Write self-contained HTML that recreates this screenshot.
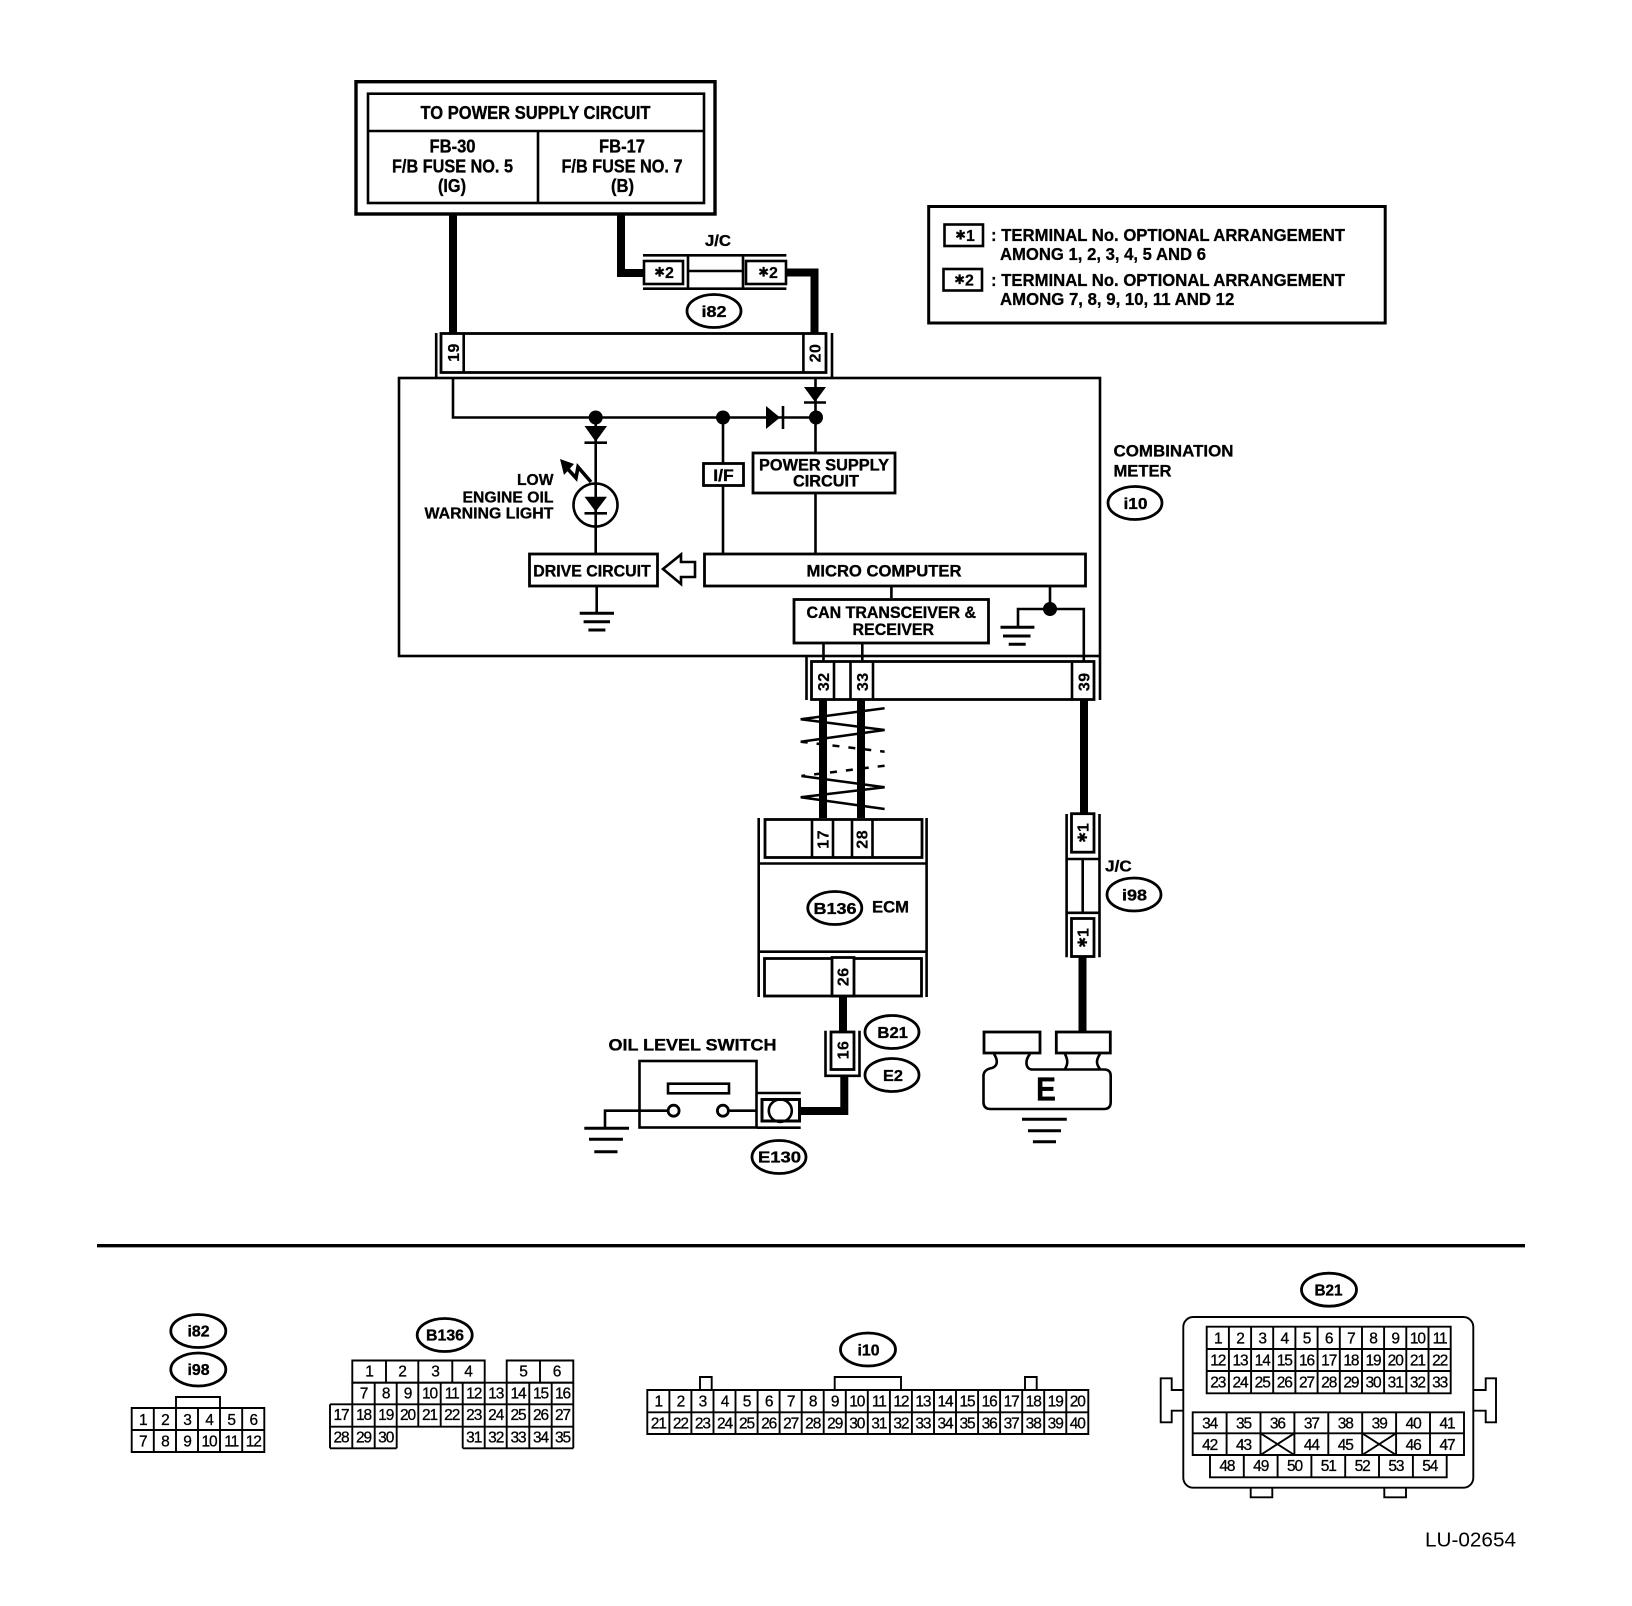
<!DOCTYPE html>
<html><head><meta charset="utf-8"><title>LU-02654</title>
<style>
html,body{margin:0;padding:0;background:#fff}
svg{display:block}
text{font-family:"Liberation Sans",sans-serif;fill:#000}
.b{font-weight:bold;font-size:17px;text-anchor:middle;stroke:#000;stroke-width:.35}
.h{font-size:18px}
.o{font-size:16px}
.l{font-weight:bold;font-size:17.5px;stroke:#000;stroke-width:.3}
.s{font-weight:bold;font-size:16px;text-anchor:middle;stroke:#000;stroke-width:.2}
.st{font-family:"DejaVu Sans",sans-serif;font-size:13px;font-weight:normal}
.p{font-weight:bold;font-size:16px;letter-spacing:.5px;text-anchor:middle;stroke:#000;stroke-width:.2}
.d{font-size:15.5px;text-anchor:middle;letter-spacing:-1.1px;stroke:#000;stroke-width:.3}
.ln{fill:none;stroke:#000;stroke-width:2.6}
.t{fill:none;stroke:#000;stroke-width:1.9}
.w{fill:none;stroke:#000;stroke-width:8}
.f{fill:#000;stroke:none}
.e{fill:#fff;stroke:#000;stroke-width:2.8}
</style></head>
<body>
<svg width="1632" height="1606" viewBox="0 0 1632 1606" xmlns="http://www.w3.org/2000/svg">
<rect width="1632" height="1606" fill="#fff"/>

<!-- Power supply box -->
<rect x="356" y="81.7" width="359" height="132.3" fill="none" stroke="#000" stroke-width="3.4"/>
<rect x="368" y="93.7" width="336" height="109.3" class="ln"/>
<path d="M368 131H704M538 131V203" class="ln"/>
<text class="b h" x="535.5" y="118.8" textLength="230" lengthAdjust="spacingAndGlyphs">TO POWER SUPPLY CIRCUIT</text>
<text class="b h" x="452.5" y="152.7" textLength="46" lengthAdjust="spacingAndGlyphs">FB-30</text>
<text class="b h" x="452.5" y="172.7" textLength="121" lengthAdjust="spacingAndGlyphs">F/B FUSE NO. 5</text>
<text class="b h" x="452" y="192" textLength="28" lengthAdjust="spacingAndGlyphs">(IG)</text>
<text class="b h" x="622" y="152.7" textLength="46" lengthAdjust="spacingAndGlyphs">FB-17</text>
<text class="b h" x="622" y="172.7" textLength="121" lengthAdjust="spacingAndGlyphs">F/B FUSE NO. 7</text>
<text class="b h" x="622.5" y="192" textLength="23" lengthAdjust="spacingAndGlyphs">(B)</text>

<!-- Wires upper -->
<path d="M453 215V333" class="w"/>
<path d="M621 215V273H644" class="w"/>
<path d="M786 272.5H814.5V333" class="w"/>

<!-- J/C i82 -->
<path d="M643 255.3H786.4M643 288.7H786.4M688 255V288M743 255V288M688 271H743" class="ln"/>
<rect x="644" y="261" width="39" height="23" fill="#fff" stroke="#000" stroke-width="2.6"/>
<rect x="746" y="261" width="40" height="23" fill="#fff" stroke="#000" stroke-width="2.6"/>
<text class="s" x="664" y="278"><tspan class="st" dy="-1.5">✱</tspan><tspan dy="1.5">2</tspan></text>
<text class="s" x="768" y="278"><tspan class="st" dy="-1.5">✱</tspan><tspan dy="1.5">2</tspan></text>
<text class="b" x="718" y="246" style="font-size:15.5px" textLength="26" lengthAdjust="spacingAndGlyphs">J/C</text>
<ellipse class="e" cx="714" cy="311" rx="27" ry="16.5"/>
<text class="b o" x="714" y="317" textLength="25" lengthAdjust="spacingAndGlyphs">i82</text>

<!-- Top connector -->
<path d="M436.2 333V377M832 333V377" class="ln"/>
<rect x="441" y="333.5" width="385" height="39" fill="#fff" stroke="#000" stroke-width="2.8"/>
<path d="M463.7 333V373M803.4 333V373" class="ln"/>
<text class="p" transform="translate(459,352.5) rotate(-90)">19</text>
<text class="p" transform="translate(820.5,353) rotate(-90)">20</text>

<!-- Meter -->
<rect x="399" y="378" width="701" height="278" class="ln"/>
<path d="M453 378V417.5H816M815.5 378V452M595.7 417.5V553M723 417.5V553M815.5 494V553M596.7 587V613M891.4 587V598M1050 587V609M1018 627V609H1083.8V661M823.5 644V661M862.3 644V661" class="ln"/>

<circle class="f" cx="595.7" cy="417.5" r="7"/>
<circle class="f" cx="723" cy="417.5" r="7"/>
<circle class="f" cx="816" cy="417.5" r="7"/>
<circle class="f" cx="1050" cy="609" r="7"/>

<polygon class="f" points="804,387 826,387 815,402"/>
<path d="M804 402.5H826" class="ln"/>
<polygon class="f" points="766,406 766,429 780,417.5"/>
<path d="M783 406V429" class="ln"/>
<polygon class="f" points="584.5,426 607,426 595.7,441.7"/>
<path d="M584.5 442.7H607" class="ln"/>

<!-- Lamp -->
<ellipse cx="595.5" cy="505" rx="22" ry="21.5" class="ln"/>
<polygon class="f" points="584.5,496.7 607,496.7 595.7,511.7"/>
<path d="M584.5 513.3H607" class="ln"/>
<polygon class="f" points="560,459 574,464 564,475"/>
<polyline points="566,467 576,478 578,467 591,482" fill="none" stroke="#000" stroke-width="3.6"/>
<text class="l" x="553.5" y="485" text-anchor="end" style="font-size:16px" textLength="36.5" lengthAdjust="spacingAndGlyphs">LOW</text>
<text class="l" x="553.5" y="502.7" text-anchor="end" style="font-size:16px" textLength="91" lengthAdjust="spacingAndGlyphs">ENGINE OIL</text>
<text class="l" x="553.5" y="518.3" text-anchor="end" style="font-size:16px" textLength="129" lengthAdjust="spacingAndGlyphs">WARNING LIGHT</text>

<!-- Blocks -->
<rect x="703.5" y="463.5" width="40" height="22" fill="#fff" stroke="#000" stroke-width="2.8"/>
<text class="b" x="723.5" y="481" textLength="20.5" lengthAdjust="spacingAndGlyphs">I/F</text>
<rect x="753" y="453" width="142" height="40" fill="#fff" stroke="#000" stroke-width="2.8"/>
<text class="b" x="824" y="470.5" textLength="130" lengthAdjust="spacingAndGlyphs">POWER SUPPLY</text>
<text class="b" x="826" y="486.7" textLength="66" lengthAdjust="spacingAndGlyphs">CIRCUIT</text>
<rect x="529.5" y="554" width="128" height="32" fill="#fff" stroke="#000" stroke-width="2.8"/>
<text class="b" x="592" y="576.7" textLength="117.5" lengthAdjust="spacingAndGlyphs">DRIVE CIRCUIT</text>
<polygon points="663,569 681,554.5 681,562 695,562 695,577 681,577 681,584" fill="#fff" stroke="#000" stroke-width="2.6"/>
<rect x="704.5" y="554" width="381" height="32" fill="#fff" stroke="#000" stroke-width="2.8"/>
<text class="b" x="884" y="576.7" textLength="155" lengthAdjust="spacingAndGlyphs">MICRO COMPUTER</text>
<rect x="794" y="599.5" width="194.5" height="43.5" fill="#fff" stroke="#000" stroke-width="2.8"/>
<text class="b" x="891.3" y="618" textLength="169.5" lengthAdjust="spacingAndGlyphs">CAN TRANSCEIVER &amp;</text>
<text class="b" x="893.3" y="635" textLength="81.5" lengthAdjust="spacingAndGlyphs">RECEIVER</text>

<!-- Grounds in meter -->
<path d="M579.7 613.3H614M583.6 621.7H610M588.4 630H605.4" fill="none" stroke="#000" stroke-width="3"/>
<path d="M1000.5 627.3H1034.4M1003 636H1030.5M1008.7 644.3H1025.7" fill="none" stroke="#000" stroke-width="3"/>

<!-- Meter labels -->
<text class="l" x="1113.5" y="456.5" style="font-size:16.5px" textLength="120" lengthAdjust="spacingAndGlyphs">COMBINATION</text>
<text class="l" x="1113.5" y="476.5" style="font-size:16.5px" textLength="58" lengthAdjust="spacingAndGlyphs">METER</text>
<ellipse class="e" cx="1135" cy="503" rx="27" ry="16.5"/>
<text class="b o" x="1135.5" y="509" textLength="24" lengthAdjust="spacingAndGlyphs">i10</text>

<!-- Bottom connector of meter -->
<path d="M806.5 657V700M1100 657V700" class="ln"/>
<rect x="811.5" y="661.5" width="282.5" height="38" fill="#fff" stroke="#000" stroke-width="2.8"/>
<path d="M834 661V700M850.5 661V700M873 661V700M1072 661V700" class="ln"/>
<text class="p" transform="translate(829,681.7) rotate(-90)">32</text>
<text class="p" transform="translate(867.8,681.7) rotate(-90)">33</text>
<text class="p" transform="translate(1089.5,681.7) rotate(-90)">39</text>

<!-- Twisted wires -->
<path d="M823 700V818M861 700V818M1084 700V813" class="w"/>
<polyline points="884.6,708.3 800.7,719.3 884.6,730 800.7,741.7" fill="none" stroke="#000" stroke-width="2.5"/>
<polyline points="800.7,741.7 884.6,751.7" fill="none" stroke="#000" stroke-width="2.5" stroke-dasharray="7 9"/>
<polyline points="884.6,765.7 801.4,776" fill="none" stroke="#000" stroke-width="2.5" stroke-dasharray="7 9"/>
<polyline points="801.4,776 884.6,787.3 800.7,797.3 884.6,809" fill="none" stroke="#000" stroke-width="2.5"/>

<!-- ECM -->
<path d="M758.7 818V997M926.6 818V997M758 863.5H927M758 951.7H927" class="ln"/>
<rect x="765" y="819.5" width="157" height="38" fill="#fff" stroke="#000" stroke-width="2.8"/>
<path d="M812 819V858M833 819V858M852 819V858M872.5 819V858" class="ln"/>
<text class="p" transform="translate(828.5,839.3) rotate(-90)">17</text>
<text class="p" transform="translate(867.5,839.3) rotate(-90)">28</text>
<rect x="764.5" y="958.5" width="157" height="37.5" fill="#fff" stroke="#000" stroke-width="2.8"/>
<rect x="832" y="957.5" width="22" height="38.5" fill="#fff" stroke="#000" stroke-width="2.8"/>
<text class="p" transform="translate(848.5,976.7) rotate(-90)">26</text>
<ellipse class="e" cx="834.8" cy="908" rx="27" ry="16.5"/>
<text class="b o" x="835" y="914" textLength="43" lengthAdjust="spacingAndGlyphs">B136</text>
<text class="b" x="890.5" y="912.7" textLength="37" lengthAdjust="spacingAndGlyphs">ECM</text>

<!-- Connector 16 and switch -->
<path d="M843 996V1031" class="w"/>
<path d="M825.5 1030.7V1075.8H859.5V1030.7" class="ln"/>
<rect x="831" y="1032" width="23" height="37.5" fill="#fff" stroke="#000" stroke-width="2.8"/>
<text class="p" transform="translate(848.5,1050) rotate(-90)">16</text>
<path d="M844.3 1076V1111H800" class="w"/>
<ellipse class="e" cx="892" cy="1032" rx="27" ry="16.5"/>
<text class="b o" x="892.7" y="1038" textLength="30.5" lengthAdjust="spacingAndGlyphs">B21</text>
<ellipse class="e" cx="892" cy="1075" rx="27" ry="16.5"/>
<text class="b o" x="893" y="1081" textLength="20" lengthAdjust="spacingAndGlyphs">E2</text>

<text class="b" x="692.5" y="1050.7" textLength="168" lengthAdjust="spacingAndGlyphs">OIL LEVEL SWITCH</text>
<rect x="639.5" y="1061" width="117" height="66.5" class="ln"/>
<rect x="668" y="1083.7" width="61" height="9.6" class="ln"/>
<path d="M605 1128.3V1110.7H667M729 1110.7H757" class="ln"/>
<circle cx="673.6" cy="1110.7" r="5.5" fill="#fff" stroke="#000" stroke-width="2.8"/>
<circle cx="722.9" cy="1110.7" r="5.5" fill="#fff" stroke="#000" stroke-width="2.8"/>
<path d="M584.3 1128.3H629M589 1139.3H622.9M594.3 1151.7H617.5" fill="none" stroke="#000" stroke-width="3"/>
<path d="M757 1093H800.7M757 1127.7H800.7" class="ln"/>
<rect x="762" y="1099.5" width="37.5" height="21.5" fill="#fff" stroke="#000" stroke-width="3"/>
<ellipse cx="780.3" cy="1110.7" rx="11.5" ry="11.2" fill="none" stroke="#000" stroke-width="2.6"/>
<ellipse class="e" cx="779" cy="1157" rx="27" ry="16.5"/>
<text class="b o" x="779.5" y="1162.7" textLength="43" lengthAdjust="spacingAndGlyphs">E130</text>

<!-- J/C i98 and ground E -->
<path d="M1082.5 957V1031" class="w"/>
<path d="M1066.6 814V957.3M1099.5 814V957.3M1066 859H1100M1066 912.8H1100M1082.7 859V913" class="ln"/>
<rect x="1071.5" y="813.7" width="22.5" height="38.5" fill="#fff" stroke="#000" stroke-width="2.8"/>
<rect x="1071.5" y="918.5" width="22.5" height="38" fill="#fff" stroke="#000" stroke-width="2.8"/>
<text class="s" transform="translate(1088.5,833) rotate(-90)"><tspan class="st" dy="-1.5">✱</tspan><tspan dy="1.5">1</tspan></text>
<text class="s" transform="translate(1088.5,938) rotate(-90)"><tspan class="st" dy="-1.5">✱</tspan><tspan dy="1.5">1</tspan></text>
<text class="b" x="1118.4" y="871.7" style="font-size:15.5px" textLength="26.5" lengthAdjust="spacingAndGlyphs">J/C</text>
<ellipse class="e" cx="1134" cy="894.5" rx="27" ry="16.5"/>
<text class="b o" x="1134.5" y="900.5" textLength="25" lengthAdjust="spacingAndGlyphs">i98</text>

<rect x="984" y="1032" width="56" height="21" fill="#fff" stroke="#000" stroke-width="2.8"/>
<rect x="1056.3" y="1032" width="54" height="21" fill="#fff" stroke="#000" stroke-width="2.8"/>
<path d="M994 1054C998 1060 998 1066 992 1068C987 1069 983.5 1071 983.5 1076V1102Q983.5 1109 990.5 1109H1104Q1110.7 1109 1110.7 1102V1076Q1110.7 1069.5 1104 1069.5H1032C1025 1069 1025 1060 1030 1054" class="ln"/>
<path d="M1065 1054C1068 1060 1068 1064 1065 1069M1100 1054C1096 1060 1096 1064 1100 1069" class="ln"/>
<text class="b" x="1046" y="1100.7" textLength="20" lengthAdjust="spacingAndGlyphs" style="font-size:33px">E</text>
<path d="M1022 1119.3H1066.8M1028 1130.7H1061M1032.9 1141.7H1056" fill="none" stroke="#000" stroke-width="3"/>

<!-- Legend -->
<rect x="928.7" y="206.5" width="456.5" height="116.5" fill="none" stroke="#000" stroke-width="3"/>
<rect x="944.5" y="224.5" width="38.5" height="21.5" class="ln"/>
<rect x="943.5" y="269" width="38.5" height="21.5" class="ln"/>
<text class="s" x="965" y="241"><tspan class="st" dy="-1.5">✱</tspan><tspan dy="1.5">1</tspan></text>
<text class="s" x="964" y="285.5"><tspan class="st" dy="-1.5">✱</tspan><tspan dy="1.5">2</tspan></text>
<text class="l" x="991" y="241" textLength="354" lengthAdjust="spacingAndGlyphs">: TERMINAL No. OPTIONAL ARRANGEMENT</text>
<text class="l" x="1000" y="260" textLength="206" lengthAdjust="spacingAndGlyphs">AMONG 1, 2, 3, 4, 5 AND 6</text>
<text class="l" x="991" y="286" textLength="354" lengthAdjust="spacingAndGlyphs">: TERMINAL No. OPTIONAL ARRANGEMENT</text>
<text class="l" x="1000" y="305" textLength="234.3" lengthAdjust="spacingAndGlyphs">AMONG 7, 8, 9, 10, 11 AND 12</text>

<!-- Separator -->
<path d="M97 1245.7H1525" fill="none" stroke="#000" stroke-width="3.4"/>

<!-- i82 / i98 table -->
<ellipse class="e" cx="198.3" cy="1331" rx="27.5" ry="16.5"/>
<text class="b o" x="198.5" y="1336.7" textLength="22" lengthAdjust="spacingAndGlyphs">i82</text>
<ellipse class="e" cx="198.3" cy="1369.5" rx="27.5" ry="16.5"/>
<text class="b o" x="198.5" y="1375" textLength="22" lengthAdjust="spacingAndGlyphs">i98</text>
<path d="M176 1408V1397H220V1408" class="t"/>
<path d="M131.7 1408H264.3V1452H131.7ZM131.7 1430H264.3M153.8 1408V1452M176 1408V1452M198 1408V1452M220 1408V1452M242.2 1408V1452" class="t"/>
<text class="d" x="142.8" y="1425">1</text><text class="d" x="164.9" y="1425">2</text><text class="d" x="187" y="1425">3</text><text class="d" x="209" y="1425">4</text><text class="d" x="231.2" y="1425">5</text><text class="d" x="253.3" y="1425">6</text>
<text class="d" x="142.8" y="1446.5">7</text><text class="d" x="164.9" y="1446.5">8</text><text class="d" x="187" y="1446.5">9</text><text class="d" x="209" y="1446.5">10</text><text class="d" x="231.2" y="1446.5">11</text><text class="d" x="253.3" y="1446.5">12</text>

<!-- B136 table -->
<ellipse class="e" cx="444.7" cy="1335" rx="27.5" ry="16.5"/>
<text class="b o" x="445" y="1340.7" textLength="38" lengthAdjust="spacingAndGlyphs">B136</text>
<path d="M352.3 1360.5H484.7V1382.7H352.3ZM386 1360.5V1382.7M418.3 1360.5V1382.7M452.3 1360.5V1382.7M506.7 1360.5H573.3V1382.7H506.7ZM540 1360.5V1382.7" class="t"/>
<path d="M352.3 1382.7V1404.3M374.7 1382.7V1404.3M396.7 1382.7V1426.7M418.3 1382.7V1426.7M440.7 1382.7V1426.7M462.7 1382.7V1448.3M484.7 1382.7V1448.3M506.7 1382.7V1448.3M529.3 1382.7V1448.3M551.7 1382.7V1448.3M573.3 1382.7V1448.3M352.3 1382.7H573.3M330 1404.3H573.3M330 1426.7H573.3M330 1448.3H396.7M462.7 1448.3H573.3M330 1404.3V1448.3M352.3 1404.3V1448.3M374.7 1404.3V1448.3M396.7 1426.7V1448.3" class="t"/>
<text class="d" x="369" y="1376.7">1</text><text class="d" x="402" y="1376.7">2</text><text class="d" x="435" y="1376.7">3</text><text class="d" x="468" y="1376.7">4</text><text class="d" x="523" y="1376.7">5</text><text class="d" x="556.5" y="1376.7">6</text>
<text class="d" x="363.5" y="1398.3">7</text><text class="d" x="385.7" y="1398.3">8</text><text class="d" x="407.5" y="1398.3">9</text><text class="d" x="429.5" y="1398.3">10</text><text class="d" x="451.7" y="1398.3">11</text><text class="d" x="473.7" y="1398.3">12</text><text class="d" x="495.7" y="1398.3">13</text><text class="d" x="518" y="1398.3">14</text><text class="d" x="540.5" y="1398.3">15</text><text class="d" x="562.5" y="1398.3">16</text>
<text class="d" x="341" y="1420">17</text><text class="d" x="363.5" y="1420">18</text><text class="d" x="385.7" y="1420">19</text><text class="d" x="407.5" y="1420">20</text><text class="d" x="429.5" y="1420">21</text><text class="d" x="451.7" y="1420">22</text><text class="d" x="473.7" y="1420">23</text><text class="d" x="495.7" y="1420">24</text><text class="d" x="518" y="1420">25</text><text class="d" x="540.5" y="1420">26</text><text class="d" x="562.5" y="1420">27</text>
<text class="d" x="341" y="1442.3">28</text><text class="d" x="363.5" y="1442.3">29</text><text class="d" x="385.7" y="1442.3">30</text><text class="d" x="473.7" y="1442.3">31</text><text class="d" x="495.7" y="1442.3">32</text><text class="d" x="518" y="1442.3">33</text><text class="d" x="540.5" y="1442.3">34</text><text class="d" x="562.5" y="1442.3">35</text>

<!-- i10 table -->
<ellipse class="e" cx="868" cy="1349.5" rx="27.5" ry="16.5"/>
<text class="b o" x="868.5" y="1355.7" textLength="22" lengthAdjust="spacingAndGlyphs">i10</text>
<path d="M700 1390V1377H711.7V1390M834.7 1390V1377H901V1390M1025 1390V1377H1036.7V1390" class="t"/>
<path d="M647.3 1390H1088.3V1434H647.3ZM647.3 1412.3H1088.3M669.4 1390V1434M691.4 1390V1434M713.5 1390V1434M735.5 1390V1434M757.6 1390V1434M779.6 1390V1434M801.7 1390V1434M823.7 1390V1434M845.8 1390V1434M867.8 1390V1434M889.9 1390V1434M911.9 1390V1434M934 1390V1434M956 1390V1434M978.1 1390V1434M1000.1 1390V1434M1022.2 1390V1434M1044.2 1390V1434M1066.3 1390V1434" class="t"/>
<text class="d" x="658.3" y="1406.7">1</text><text class="d" x="680.4" y="1406.7">2</text><text class="d" x="702.4" y="1406.7">3</text><text class="d" x="724.5" y="1406.7">4</text><text class="d" x="746.5" y="1406.7">5</text><text class="d" x="768.6" y="1406.7">6</text><text class="d" x="790.6" y="1406.7">7</text><text class="d" x="812.7" y="1406.7">8</text><text class="d" x="834.7" y="1406.7">9</text><text class="d" x="856.8" y="1406.7">10</text><text class="d" x="878.8" y="1406.7">11</text><text class="d" x="900.9" y="1406.7">12</text><text class="d" x="922.9" y="1406.7">13</text><text class="d" x="945" y="1406.7">14</text><text class="d" x="967" y="1406.7">15</text><text class="d" x="989.1" y="1406.7">16</text><text class="d" x="1011.1" y="1406.7">17</text><text class="d" x="1033.2" y="1406.7">18</text><text class="d" x="1055.2" y="1406.7">19</text><text class="d" x="1077.3" y="1406.7">20</text>
<text class="d" x="658.3" y="1428.3">21</text><text class="d" x="680.4" y="1428.3">22</text><text class="d" x="702.4" y="1428.3">23</text><text class="d" x="724.5" y="1428.3">24</text><text class="d" x="746.5" y="1428.3">25</text><text class="d" x="768.6" y="1428.3">26</text><text class="d" x="790.6" y="1428.3">27</text><text class="d" x="812.7" y="1428.3">28</text><text class="d" x="834.7" y="1428.3">29</text><text class="d" x="856.8" y="1428.3">30</text><text class="d" x="878.8" y="1428.3">31</text><text class="d" x="900.9" y="1428.3">32</text><text class="d" x="922.9" y="1428.3">33</text><text class="d" x="945" y="1428.3">34</text><text class="d" x="967" y="1428.3">35</text><text class="d" x="989.1" y="1428.3">36</text><text class="d" x="1011.1" y="1428.3">37</text><text class="d" x="1033.2" y="1428.3">38</text><text class="d" x="1055.2" y="1428.3">39</text><text class="d" x="1077.3" y="1428.3">40</text>

<!-- B21 table -->
<ellipse class="e" cx="1329" cy="1289.7" rx="27.5" ry="16.5"/>
<text class="b o" x="1328.5" y="1295.7" textLength="28" lengthAdjust="spacingAndGlyphs">B21</text>
<rect x="1183.3" y="1317" width="290" height="170.7" rx="10" class="t"/>
<path d="M1183.3 1390H1171.7V1378.3H1160.7V1422.3H1171.7V1410.7H1183.3M1473.3 1390H1485.7V1378.3H1496V1422.3H1485.7V1410.7H1473.3M1250.7 1487.7V1497.3H1272.3V1487.7M1384.3 1487.7V1497.3H1406V1487.7" class="t"/>
<path d="M1206.7 1326.7H1450.7V1393.3H1206.7ZM1206.7 1349H1450.7M1206.7 1371H1450.7M1228.9 1326.7V1393.3M1251.1 1326.7V1393.3M1273.2 1326.7V1393.3M1295.4 1326.7V1393.3M1317.6 1326.7V1393.3M1339.8 1326.7V1393.3M1362 1326.7V1393.3M1384.1 1326.7V1393.3M1406.3 1326.7V1393.3M1428.5 1326.7V1393.3" class="t"/>
<path d="M1192.7 1412.3H1464V1455H1192.7ZM1192.7 1433.3H1464M1226.6 1412.3V1455M1260.5 1412.3V1455M1294.4 1412.3V1455M1328.3 1412.3V1455M1362.2 1412.3V1455M1396.1 1412.3V1455M1430 1412.3V1455" class="t"/>
<path d="M1260.5 1433.3L1294.4 1455M1294.4 1433.3L1260.5 1455M1362.2 1433.3L1396.1 1455M1396.1 1433.3L1362.2 1455" class="t"/>
<path d="M1210 1455V1477.3H1446.7V1455M1243.8 1455V1477.3M1277.6 1455V1477.3M1311.4 1455V1477.3M1345.2 1455V1477.3M1379 1455V1477.3M1412.9 1455V1477.3" class="t"/>
<text class="d" x="1217.8" y="1343.3">1</text><text class="d" x="1240" y="1343.3">2</text><text class="d" x="1262.2" y="1343.3">3</text><text class="d" x="1284.3" y="1343.3">4</text><text class="d" x="1306.5" y="1343.3">5</text><text class="d" x="1328.7" y="1343.3">6</text><text class="d" x="1350.9" y="1343.3">7</text><text class="d" x="1373" y="1343.3">8</text><text class="d" x="1395.2" y="1343.3">9</text><text class="d" x="1417.4" y="1343.3">10</text><text class="d" x="1439.6" y="1343.3">11</text>
<text class="d" x="1217.8" y="1365.3">12</text><text class="d" x="1240" y="1365.3">13</text><text class="d" x="1262.2" y="1365.3">14</text><text class="d" x="1284.3" y="1365.3">15</text><text class="d" x="1306.5" y="1365.3">16</text><text class="d" x="1328.7" y="1365.3">17</text><text class="d" x="1350.9" y="1365.3">18</text><text class="d" x="1373" y="1365.3">19</text><text class="d" x="1395.2" y="1365.3">20</text><text class="d" x="1417.4" y="1365.3">21</text><text class="d" x="1439.6" y="1365.3">22</text>
<text class="d" x="1217.8" y="1387.7">23</text><text class="d" x="1240" y="1387.7">24</text><text class="d" x="1262.2" y="1387.7">25</text><text class="d" x="1284.3" y="1387.7">26</text><text class="d" x="1306.5" y="1387.7">27</text><text class="d" x="1328.7" y="1387.7">28</text><text class="d" x="1350.9" y="1387.7">29</text><text class="d" x="1373" y="1387.7">30</text><text class="d" x="1395.2" y="1387.7">31</text><text class="d" x="1417.4" y="1387.7">32</text><text class="d" x="1439.6" y="1387.7">33</text>
<text class="d" x="1209.6" y="1428.3">34</text><text class="d" x="1243.5" y="1428.3">35</text><text class="d" x="1277.4" y="1428.3">36</text><text class="d" x="1311.4" y="1428.3">37</text><text class="d" x="1345.3" y="1428.3">38</text><text class="d" x="1379.2" y="1428.3">39</text><text class="d" x="1413.1" y="1428.3">40</text><text class="d" x="1447" y="1428.3">41</text>
<text class="d" x="1209.6" y="1450">42</text><text class="d" x="1243.5" y="1450">43</text><text class="d" x="1311.4" y="1450">44</text><text class="d" x="1345.3" y="1450">45</text><text class="d" x="1413.1" y="1450">46</text><text class="d" x="1447" y="1450">47</text>
<text class="d" x="1226.9" y="1471">48</text><text class="d" x="1260.7" y="1471">49</text><text class="d" x="1294.5" y="1471">50</text><text class="d" x="1328.3" y="1471">51</text><text class="d" x="1362.1" y="1471">52</text><text class="d" x="1395.9" y="1471">53</text><text class="d" x="1429.8" y="1471">54</text>

<text x="1425" y="1546.7" font-size="20" textLength="91" lengthAdjust="spacingAndGlyphs">LU-02654</text>
</svg>
</body></html>
